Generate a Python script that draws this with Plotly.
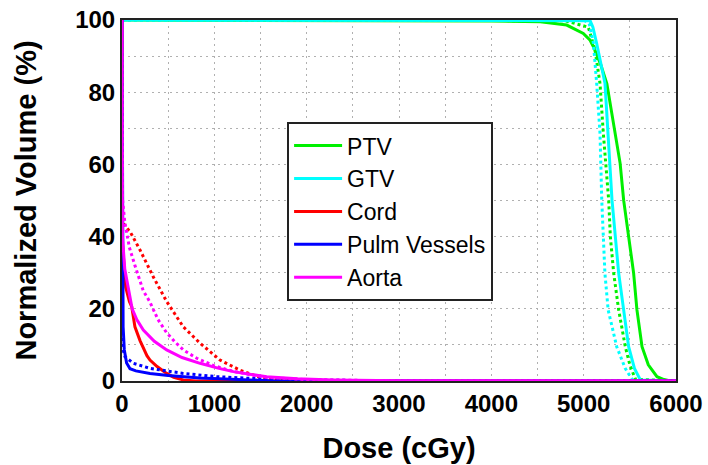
import plotly.graph_objects as go

# ---- data ----
ptv_solid_d = [0, 3000, 4000, 4530, 4816, 4996, 5070, 5106, 5180, 5251, 5320, 5395, 5433, 5487, 5541, 5577, 5632, 5700, 5794, 5870, 5939, 6000]
ptv_solid_v = [100, 99.9, 99.7, 99.5, 98.6, 96.3, 94.4, 92.6, 88, 82.4, 72, 60.3, 50.1, 40, 29.9, 19.7, 9.5, 4.5, 1.2, 0.4, 0, 0]

ptv_dot_d = [0, 4000, 4800, 5050, 5123, 5177, 5213, 5271, 5289, 5325, 5379, 5451, 5500, 5560, 6000]
ptv_dot_v = [100, 100, 99.8, 98, 91.7, 82.4, 68.6, 50.1, 40, 29.9, 19.7, 9.5, 4.5, 0.5, 0]

gtv_solid_d = [0, 5000, 5070, 5100, 5141, 5231, 5285, 5307, 5343, 5379, 5433, 5487, 5550, 5614, 6000]
gtv_solid_v = [100, 100, 99.8, 98, 93.5, 82.4, 59.4, 50.1, 40, 29.9, 19.7, 9.5, 3.5, 0.3, 0]

gtv_dot_d = [0, 5000, 5060, 5106, 5141, 5177, 5196, 5215, 5230, 5265, 5358, 5450, 5502, 5535, 6000]
gtv_dot_v = [100, 100, 99, 93.5, 82.4, 68.6, 50.1, 40, 29.9, 19.7, 9.5, 3.5, 1.2, 0, 0]

cord_solid_d = [0, 5, 40, 80, 105, 140, 195, 270, 303, 380, 484, 560, 664, 800, 6000]
cord_solid_v = [100, 38, 26, 22, 20.6, 15, 11.2, 7, 5.8, 4, 2.1, 1, 0.3, 0, 0]

cord_dot_d = [0, 5, 65, 87, 195, 303, 340, 484, 664, 845, 1061, 1278, 1495, 1700, 2000, 2500, 6000]
cord_dot_v = [100, 44, 42, 41.4, 36.3, 30.7, 28.8, 22, 15, 10.5, 5.8, 3, 1.0, 0.4, 0.1, 0, 0]

pulm_solid_d = [0, 5, 12, 25, 50, 87, 150, 303, 500, 845, 1200, 1600, 2000, 6000]
pulm_solid_v = [100, 31.6, 15, 8.6, 5, 3.4, 2.8, 2.1, 1.5, 0.8, 0.4, 0.1, 0, 0]

pulm_dot_d = [0, 3, 33, 123, 303, 490, 664, 1026, 1300, 1567, 2000, 2650, 3000, 6000]
pulm_dot_v = [100, 9.5, 6.7, 4.9, 3.5, 2.7, 2.1, 1.2, 0.8, 0.5, 0.3, 0.15, 0, 0]

aorta_solid_d = [0, 5, 30, 70, 110, 160, 231, 350, 484, 650, 845, 1050, 1206, 1400, 1567, 1900, 2288, 3000, 4000, 6000]
aorta_solid_v = [100, 40, 31, 25, 20, 17, 14.1, 11, 8.6, 6.5, 4.9, 3.5, 2.6, 1.8, 1.2, 0.6, 0.3, 0.1, 0, 0]

aorta_dot_d = [0, 3, 30, 80, 140, 230, 300, 390, 480, 575, 664, 810, 1000, 1200, 1400, 1570, 2000, 2500, 3000, 6000]
aorta_dot_v = [100, 51, 44, 37, 32, 25, 22, 17, 13.5, 10.8, 8.6, 6.3, 4.2, 2.7, 1.7, 1.0, 0.4, 0.1, 0, 0]

names = ["PTV", "GTV", "Cord", "Pulm Vessels", "Aorta"]
colors = ["#00f000", "#00ffff", "#ff0000", "#0000ff", "#ff00ff"]
solid = [(ptv_solid_d, ptv_solid_v), (gtv_solid_d, gtv_solid_v), (cord_solid_d, cord_solid_v),
         (pulm_solid_d, pulm_solid_v), (aorta_solid_d, aorta_solid_v)]
dotted = [(ptv_dot_d, ptv_dot_v), (gtv_dot_d, gtv_dot_v), (cord_dot_d, cord_dot_v),
          (pulm_dot_d, pulm_dot_v), (aorta_dot_d, aorta_dot_v)]

x_ticks = [0, 1000, 2000, 3000, 4000, 5000, 6000]
y_ticks = [0, 20, 40, 60, 80, 100]

fig = go.Figure()
for name, col, (sd, sv), (dd, dv) in zip(names, colors, solid, dotted):
    fig.add_trace(go.Scatter(x=dd, y=dv, mode="lines", name=name + " (dotted)",
                             line=dict(color=col, width=3, dash="dot"), showlegend=False))
    fig.add_trace(go.Scatter(x=sd, y=sv, mode="lines", name=name,
                             line=dict(color=col, width=3)))

FONT = "Arial, Liberation Sans, sans-serif"
grid = dict(showgrid=True, gridcolor="#b0b0b0", gridwidth=1, griddash="2px,4px")

fig.update_layout(
    width=708, height=465,
    margin=dict(l=122, r=32, t=20, b=84),
    paper_bgcolor="white", plot_bgcolor="white",
    font=dict(family=FONT, color="black"),
    legend=dict(x=0.298, y=0.717, xanchor="left", yanchor="top",
                bgcolor="white", bordercolor="#222", borderwidth=2,
                font=dict(family=FONT, size=23, color="black"),
                itemwidth=48, tracegroupgap=0),
    xaxis=dict(range=[0, 6000], tickvals=x_ticks, ticktext=[str(v) for v in x_ticks],
               showline=True, mirror=True, linecolor="#222", linewidth=2,
               ticks="", zeroline=False, automargin=False,
               tickfont=dict(family=FONT, size=24, weight="bold"),
               title=dict(text="Dose (cGy)", font=dict(family=FONT, size=29, weight="bold"), standoff=22),
               minor=dict(dtick=500, tick0=0, **grid),
               **grid),
    yaxis=dict(range=[0, 100], tickvals=y_ticks, ticktext=[str(v) for v in y_ticks],
               showline=True, mirror=True, linecolor="#222", linewidth=2,
               ticks="", zeroline=False, automargin=False,
               tickfont=dict(family=FONT, size=24, weight="bold"),
               title=dict(text="Normalized Volume (%)", font=dict(family=FONT, size=29, weight="bold"), standoff=30),
               minor=dict(dtick=10, tick0=0, **grid),
               **grid),
)

fig.write_html("out.html")
